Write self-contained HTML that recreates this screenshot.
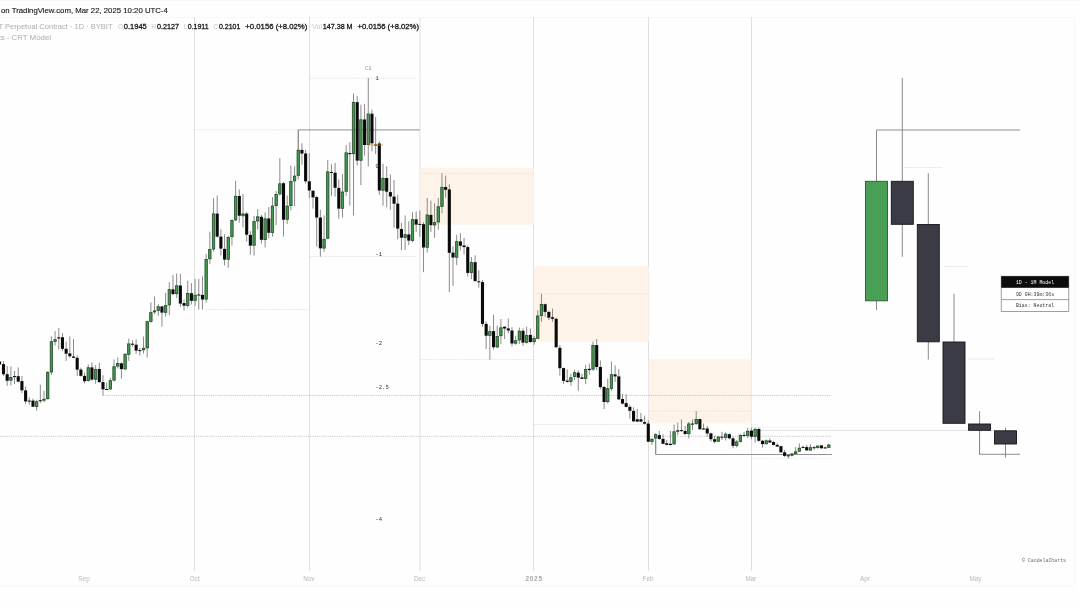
<!DOCTYPE html>
<html lang="en"><head><meta charset="utf-8"><title>CRT Model chart</title>
<style>
html,body{margin:0;padding:0;background:#fefefe;}
body{width:1080px;height:608px;overflow:hidden;position:relative;font-family:"Liberation Sans",sans-serif;}
svg{position:absolute;left:0;top:0;display:block;}
.hdr{position:absolute;left:0;top:0;width:1080px;height:17px;background:#fefefe;border-top:1px solid #f8f5f8;box-sizing:border-box;}
</style></head><body>
<div class="hdr"></div>
<svg width="1080" height="608" viewBox="0 0 1080 608">
<g fill="none" stroke="#f9f7f9" stroke-width="1">
<path d="M0 17.5H1074.5V586.5H0"/>
</g>
<g stroke="#dfdfe2" stroke-width="1" fill="none">
<path d="M194.5 17V571"/>
<path d="M309.5 17V571"/>
<path d="M420 17V571"/>
<path d="M533.5 17V571"/>
<path d="M648.5 17V571"/>
<path d="M751.5 17V571"/>
</g>
<g fill="#fdf3e9">
<rect x="420.3" y="167.7" width="113.4" height="57"/>
<rect x="533.7" y="266.3" width="115" height="75.4"/>
<rect x="648.7" y="359.2" width="102.8" height="64.3"/>
</g>
<path d="M195.1 129.9H298.3" stroke="#d9d9dc" stroke-width="0.8" stroke-dasharray="1.2 1" fill="none"/>
<path d="M206.1 309.5H309.3" stroke="#d9d9dc" stroke-width="0.8" stroke-dasharray="1.2 1" fill="none"/>
<path d="M310.3 78.2H416.5" stroke="#d9d9dc" stroke-width="0.8" stroke-dasharray="1.2 1" fill="none"/>
<path d="M310.3 256.6H416.5" stroke="#d9d9dc" stroke-width="0.8" stroke-dasharray="1.2 1" fill="none"/>
<path d="M419.8 173.4H534.1" stroke="#ecdccd" stroke-width="0.8" stroke-dasharray="1.2 1" fill="none"/>
<path d="M419.8 359.6H534.1" stroke="#d9d9dc" stroke-width="0.8" stroke-dasharray="1.2 1" fill="none"/>
<path d="M534.1 293.6H648.3" stroke="#ecdccd" stroke-width="0.8" stroke-dasharray="1.2 1" fill="none"/>
<path d="M534.1 424.5H648.3" stroke="#d9d9dc" stroke-width="0.8" stroke-dasharray="1.2 1" fill="none"/>
<path d="M648.3 411.3H751.5" stroke="#e9ddd2" stroke-width="0.8" stroke-dasharray="1.2 1" fill="none"/>
<path d="M751.5 427.3H831.0" stroke="#e6e6e9" stroke-width="0.8" stroke-dasharray="1.2 1" fill="none"/>
<path d="M751.5 458.6H831.0" stroke="#e6e6e9" stroke-width="0.8" stroke-dasharray="1.2 1" fill="none"/>
<path d="M103.0 395.4H831.0" stroke="#c4bcc6" stroke-width="0.9" stroke-dasharray="1.2 1" fill="none"/>
<path d="M0.0 436.3H831.0" stroke="#c8c0ca" stroke-width="0.9" stroke-dasharray="1.2 1" fill="none"/>
<path d="M298.3 150V129.9H419.8" stroke="#8e8e92" stroke-width="1" fill="none"/>
<path d="M655.7 440V454.5H832" stroke="#949498" stroke-width="1" fill="none"/>
<path d="M751.5 430.5H994" stroke="#e3e1e8" stroke-width="1" fill="none"/>
<path d="M904.0 167.5H942.0" stroke="#d6d6d9" stroke-width="0.8" stroke-dasharray="1.2 1" fill="none"/>
<path d="M944.0 266.5H968.0" stroke="#d6d6d9" stroke-width="0.8" stroke-dasharray="1.2 1" fill="none"/>
<path d="M968.0 359.0H994.0" stroke="#d6d6d9" stroke-width="0.8" stroke-dasharray="1.2 1" fill="none"/>
<path d="M876.5 181V130H1020" stroke="#8e8e92" stroke-width="1" fill="none"/>
<path d="M979.5 430V454.3H1020" stroke="#8e8e92" stroke-width="1" fill="none"/>
<path d="M3.50 361.1V375.9M7.18 366.0V385.8M10.87 366.5V385.4M14.55 371.0V384.1M18.24 367.4V382.5M21.92 375.9V393.1M25.61 386.6V403.8M29.29 397.3V404.7M32.98 398.6V407.1M36.66 399.7V410.7M40.34 384.6V403.0M44.03 390.7V402.2M47.71 371.0V399.7M51.40 336.4V375.1M55.08 331.2V345.5M58.77 327.9V349.6M62.45 333.1V351.2M66.14 341.4V360.8M69.82 336.4V357.8M73.51 338.9V358.1M77.19 355.3V375.9M80.87 367.7V376.7M84.56 372.6V383.3M88.24 364.4V381.6M91.93 362.4V380.5M95.61 365.2V383.8M99.30 362.7V382.8M102.98 375.1V395.6M106.67 382.5V389.9M110.35 377.9V389.9M114.03 359.4V381.6M117.72 357.5V368.5M121.40 362.5V378.6M125.09 353.4V369.9M128.77 338.6V360.8M132.46 340.3V346.9M136.14 339.4V353.9M139.83 348.0V355.6M143.51 336.5V353.4M147.20 320.6V357.5M150.88 302.4V322.5M154.56 296.5V314.2M158.25 304.1V315.9M161.93 306.0V326.6M165.62 292.9V316.7M169.30 282.2V315.1M172.99 275.1V295.3M176.67 273.5V297.8M180.36 274.0V306.9M184.04 299.4V310.6M187.72 280.6V307.7M191.41 283.0V304.4M195.09 278.9V306.0M198.78 278.9V309.6M202.46 276.4V309.6M206.15 253.8V302.7M209.83 231.7V264.0M213.52 198.3V251.4M217.20 195.5V237.4M220.89 229.2V255.5M224.57 234.1V265.4M228.25 235.8V267.8M231.94 219.3V245.6M235.62 180.7V221.0M239.31 189.4V222.6M242.99 193.8V227.5M246.68 211.9V241.5M250.36 231.2V254.7M254.05 216.0V255.5M257.73 209.1V229.5M261.41 214.7V243.7M265.10 212.4V247.3M268.78 207.0V238.2M272.47 197.1V236.6M276.15 191.0V225.1M279.84 158.1V195.5M283.52 182.3V236.6M287.21 195.5V223.9M290.89 165.5V210.3M294.58 166.3V206.2M298.26 129.7V179.3M301.94 143.3V164.7M305.63 149.7V183.4M309.31 153.0V198.2M313.00 190.0V208.6M316.68 195.8V246.7M320.37 209.7V256.6M324.05 215.5V251.7M327.74 160.1V239.3M331.42 164.2V195.8M335.11 162.9V196.6M338.79 179.3V218.8M342.47 174.1V217.5M346.16 145.1V195.8M349.84 142.3V205.6M353.53 93.5V215.5M357.21 96.1V165.5M360.90 104.7V185.1M364.58 103.8V155.6M368.27 78.0V166.3M371.95 109.6V151.5M375.63 117.0V154.0M379.32 141.2V194.9M383.00 163.7V205.6M386.69 166.2V207.3M390.37 174.4V209.7M394.06 180.1V227.8M397.74 194.9V239.3M401.43 222.9V250.0M405.11 215.5V250.0M408.79 221.2V245.1M412.48 212.2V242.3M416.16 211.4V231.9M419.85 210.6V236.8M423.53 222.1V272.2M427.22 197.9V252.5M430.90 200.6V231.9M434.59 203.4V237.9M438.27 198.0V229.7M441.96 173.3V213.3M445.64 175.5V197.7M449.32 184.2V292.0M453.01 246.3V285.8M456.69 234.8V265.2M460.38 233.2V250.4M464.06 237.8V254.5M467.75 245.5V276.7M471.43 257.0V279.2M475.12 255.3V281.6M478.80 270.1V287.7M482.49 280.0V326.7M486.17 321.3V348.9M489.85 325.9V359.6M493.54 314.7V349.7M497.22 325.6V348.1M500.91 319.0V344.0M504.59 326.4V339.0M508.28 318.5V333.3M511.96 327.2V346.4M515.65 335.8V344.8M519.33 327.5V344.0M523.01 328.4V345.9M526.70 326.7V343.5M530.38 328.4V343.1M534.07 335.8V344.8M537.75 310.3V339.0M541.44 293.8V321.8M545.12 303.7V316.9M548.81 311.1V320.1M552.49 308.6V321.8M556.17 317.7V348.1M559.86 345.1V375.7M563.54 367.5V383.9M567.23 369.4V382.6M570.91 373.6V385.6M574.60 369.8V380.1M578.28 370.3V390.8M581.97 373.6V379.0M585.65 364.9V384.2M589.34 363.7V374.7M593.02 341.5V370.8M596.70 339.0V370.3M600.39 360.4V389.2M604.07 385.9V409.2M607.76 378.5V403.6M611.44 361.6V390.8M615.13 365.3V381.8M618.81 369.1V399.9M622.50 394.1V404.3M626.18 394.4V407.3M629.87 404.8V418.8M633.55 407.3V422.1M637.23 408.9V422.1M640.92 413.0V422.1M644.60 415.5V424.5M648.29 420.3V442.1M651.97 438.4V444.9M655.66 433.4V454.3M659.34 431.0V440.0M663.03 434.2V444.1M666.71 440.0V445.4M670.39 431.0V445.4M674.08 424.4V444.9M677.76 422.7V435.1M681.45 419.4V431.8M685.13 426.0V435.1M688.82 421.9V438.4M692.50 419.4V430.1M696.19 411.2V424.7M699.87 418.6V429.6M703.55 423.6V429.6M707.24 426.0V436.7M710.92 432.6V441.6M714.61 435.9V443.3M718.29 435.9V442.1M721.98 431.8V440.0M725.66 432.3V440.5M729.35 433.4V439.2M733.03 436.7V448.2M736.72 440.0V447.4M740.40 433.9V442.5M744.08 431.8V436.7M747.77 427.7V437.9M751.45 427.7V439.2M755.14 427.7V442.5M758.82 427.4V441.6M762.51 440.0V447.7M766.19 439.5V444.4M769.88 438.4V442.8M773.56 440.8V445.4M777.25 443.3V447.1M780.93 445.8V452.7M784.61 449.9V456.9M788.30 454.3V458.6M791.98 453.1V456.4M795.67 447.1V454.8M799.35 443.3V452.0M803.04 445.8V448.2M806.72 444.9V450.7M810.41 444.1V450.7M814.09 445.8V449.9M817.77 445.4V448.7M821.46 444.9V449.0M825.14 446.6V449.0M828.83 444.1V448.2" stroke="#8b8b8b" stroke-width="1" fill="none"/>
<g fill="#0a0a0a"><rect x="1.95" y="364.1" width="3.1" height="10.2"/><rect x="5.63" y="374.2" width="3.1" height="6.6"/><rect x="13.00" y="376.1" width="3.1" height="1.0"/><rect x="16.69" y="376.2" width="3.1" height="5.4"/><rect x="20.37" y="381.1" width="3.1" height="9.2"/><rect x="24.06" y="390.4" width="3.1" height="11.0"/><rect x="27.74" y="400.6" width="3.1" height="1.0"/><rect x="31.43" y="400.6" width="3.1" height="6.1"/><rect x="38.80" y="400.2" width="3.1" height="1.0"/><rect x="57.22" y="337.3" width="3.1" height="1.2"/><rect x="60.90" y="337.3" width="3.1" height="11.5"/><rect x="64.59" y="348.8" width="3.1" height="4.9"/><rect x="68.27" y="353.4" width="3.1" height="2.8"/><rect x="71.96" y="356.5" width="3.1" height="1.3"/><rect x="75.64" y="357.8" width="3.1" height="11.8"/><rect x="79.32" y="369.6" width="3.1" height="6.2"/><rect x="83.01" y="375.9" width="3.1" height="5.3"/><rect x="90.38" y="367.4" width="3.1" height="12.2"/><rect x="97.75" y="369.0" width="3.1" height="13.1"/><rect x="101.43" y="382.1" width="3.1" height="7.2"/><rect x="105.12" y="389.0" width="3.1" height="1.0"/><rect x="119.85" y="363.3" width="3.1" height="5.8"/><rect x="130.91" y="343.7" width="3.1" height="1.0"/><rect x="134.59" y="344.7" width="3.1" height="5.9"/><rect x="138.28" y="350.1" width="3.1" height="1.0"/><rect x="160.38" y="306.4" width="3.1" height="6.2"/><rect x="171.44" y="289.3" width="3.1" height="4.8"/><rect x="178.81" y="285.5" width="3.1" height="18.1"/><rect x="182.49" y="303.1" width="3.1" height="2.6"/><rect x="189.86" y="293.2" width="3.1" height="7.6"/><rect x="197.23" y="294.5" width="3.1" height="1.0"/><rect x="200.91" y="294.9" width="3.1" height="4.6"/><rect x="215.65" y="213.6" width="3.1" height="23.0"/><rect x="219.34" y="236.6" width="3.1" height="12.0"/><rect x="223.02" y="248.9" width="3.1" height="10.7"/><rect x="237.76" y="196.0" width="3.1" height="19.7"/><rect x="245.13" y="213.6" width="3.1" height="21.1"/><rect x="248.81" y="234.9" width="3.1" height="10.7"/><rect x="259.86" y="216.8" width="3.1" height="23.0"/><rect x="267.23" y="218.5" width="3.1" height="14.3"/><rect x="281.97" y="183.2" width="3.1" height="36.5"/><rect x="300.39" y="149.9" width="3.1" height="3.6"/><rect x="304.08" y="153.5" width="3.1" height="27.8"/><rect x="307.76" y="181.3" width="3.1" height="9.2"/><rect x="311.45" y="190.8" width="3.1" height="6.6"/><rect x="315.13" y="197.1" width="3.1" height="20.4"/><rect x="318.82" y="217.6" width="3.1" height="30.7"/><rect x="329.87" y="171.9" width="3.1" height="1.0"/><rect x="333.56" y="172.7" width="3.1" height="15.1"/><rect x="337.24" y="187.9" width="3.1" height="20.7"/><rect x="348.29" y="153.0" width="3.1" height="1.2"/><rect x="355.66" y="102.2" width="3.1" height="58.4"/><rect x="363.03" y="119.5" width="3.1" height="25.5"/><rect x="370.40" y="113.7" width="3.1" height="29.6"/><rect x="374.08" y="144.6" width="3.1" height="1.0"/><rect x="377.77" y="143.5" width="3.1" height="47.0"/><rect x="385.14" y="178.0" width="3.1" height="13.7"/><rect x="388.82" y="192.1" width="3.1" height="4.4"/><rect x="392.51" y="196.6" width="3.1" height="7.1"/><rect x="396.19" y="203.6" width="3.1" height="25.0"/><rect x="399.88" y="229.0" width="3.1" height="8.7"/><rect x="407.24" y="234.4" width="3.1" height="6.2"/><rect x="414.61" y="219.3" width="3.1" height="5.3"/><rect x="418.30" y="223.9" width="3.1" height="1.0"/><rect x="421.98" y="224.2" width="3.1" height="23.3"/><rect x="429.35" y="214.9" width="3.1" height="10.3"/><rect x="444.09" y="187.0" width="3.1" height="2.8"/><rect x="447.77" y="189.4" width="3.1" height="63.4"/><rect x="451.46" y="252.6" width="3.1" height="4.9"/><rect x="458.83" y="241.4" width="3.1" height="4.4"/><rect x="462.51" y="245.5" width="3.1" height="1.6"/><rect x="466.20" y="247.1" width="3.1" height="25.8"/><rect x="473.57" y="262.2" width="3.1" height="18.9"/><rect x="477.25" y="281.3" width="3.1" height="1.0"/><rect x="480.94" y="282.1" width="3.1" height="41.8"/><rect x="484.62" y="323.9" width="3.1" height="11.8"/><rect x="491.99" y="331.1" width="3.1" height="16.1"/><rect x="503.04" y="326.7" width="3.1" height="1.8"/><rect x="506.73" y="328.4" width="3.1" height="2.1"/><rect x="510.41" y="330.5" width="3.1" height="13.0"/><rect x="521.46" y="330.8" width="3.1" height="11.8"/><rect x="528.83" y="334.9" width="3.1" height="7.1"/><rect x="543.57" y="304.2" width="3.1" height="7.7"/><rect x="547.26" y="311.9" width="3.1" height="5.8"/><rect x="550.94" y="317.2" width="3.1" height="1.6"/><rect x="554.62" y="318.8" width="3.1" height="28.4"/><rect x="558.31" y="347.8" width="3.1" height="20.4"/><rect x="561.99" y="368.1" width="3.1" height="12.8"/><rect x="565.68" y="380.6" width="3.1" height="1.3"/><rect x="576.73" y="372.7" width="3.1" height="4.9"/><rect x="580.42" y="377.4" width="3.1" height="1.5"/><rect x="587.79" y="368.8" width="3.1" height="1.3"/><rect x="595.15" y="345.1" width="3.1" height="21.9"/><rect x="598.84" y="367.0" width="3.1" height="20.1"/><rect x="602.52" y="387.0" width="3.1" height="15.0"/><rect x="613.58" y="374.4" width="3.1" height="2.0"/><rect x="617.26" y="376.4" width="3.1" height="23.0"/><rect x="620.95" y="399.0" width="3.1" height="4.6"/><rect x="624.63" y="403.1" width="3.1" height="3.8"/><rect x="628.32" y="406.9" width="3.1" height="3.9"/><rect x="632.00" y="410.9" width="3.1" height="10.4"/><rect x="635.68" y="419.3" width="3.1" height="2.3"/><rect x="639.37" y="419.3" width="3.1" height="2.3"/><rect x="643.05" y="422.1" width="3.1" height="1.6"/><rect x="646.74" y="423.6" width="3.1" height="18.1"/><rect x="657.79" y="435.1" width="3.1" height="3.8"/><rect x="661.48" y="438.9" width="3.1" height="4.9"/><rect x="665.16" y="443.3" width="3.1" height="1.6"/><rect x="668.84" y="443.8" width="3.1" height="1.2"/><rect x="676.21" y="430.3" width="3.1" height="1.3"/><rect x="679.90" y="430.1" width="3.1" height="1.0"/><rect x="683.58" y="431.0" width="3.1" height="3.0"/><rect x="690.95" y="423.6" width="3.1" height="1.0"/><rect x="698.32" y="419.1" width="3.1" height="10.2"/><rect x="702.00" y="428.5" width="3.1" height="1.0"/><rect x="705.69" y="428.5" width="3.1" height="4.9"/><rect x="709.37" y="433.4" width="3.1" height="5.8"/><rect x="713.06" y="439.2" width="3.1" height="2.5"/><rect x="720.43" y="436.7" width="3.1" height="1.0"/><rect x="727.80" y="434.2" width="3.1" height="4.1"/><rect x="731.48" y="438.4" width="3.1" height="7.4"/><rect x="742.53" y="434.9" width="3.1" height="1.0"/><rect x="749.90" y="430.6" width="3.1" height="6.1"/><rect x="757.27" y="429.0" width="3.1" height="11.8"/><rect x="760.96" y="440.8" width="3.1" height="3.3"/><rect x="768.33" y="440.5" width="3.1" height="2.0"/><rect x="772.01" y="442.1" width="3.1" height="2.8"/><rect x="775.70" y="444.9" width="3.1" height="1.6"/><rect x="779.38" y="446.2" width="3.1" height="6.1"/><rect x="783.06" y="452.3" width="3.1" height="3.6"/><rect x="801.49" y="446.9" width="3.1" height="1.0"/><rect x="805.17" y="447.1" width="3.1" height="3.3"/><rect x="812.54" y="447.2" width="3.1" height="1.0"/><rect x="819.91" y="445.4" width="3.1" height="2.8"/><rect x="823.59" y="447.4" width="3.1" height="1.0"/></g>
<g fill="#439a4e" stroke="#234a2a" stroke-width="0.8"><rect x="9.67" y="377.5" width="2.4" height="2.7"/><rect x="35.46" y="401.7" width="2.4" height="4.7"/><rect x="42.83" y="399.2" width="2.4" height="1.0"/><rect x="46.51" y="372.6" width="2.4" height="26.0"/><rect x="50.20" y="341.7" width="2.4" height="30.3"/><rect x="53.88" y="339.7" width="2.4" height="1.7"/><rect x="87.04" y="367.7" width="2.4" height="12.9"/><rect x="94.41" y="369.6" width="2.4" height="9.6"/><rect x="109.15" y="380.6" width="2.4" height="8.4"/><rect x="112.83" y="366.7" width="2.4" height="13.4"/><rect x="116.52" y="363.4" width="2.4" height="2.7"/><rect x="123.89" y="354.2" width="2.4" height="14.8"/><rect x="127.57" y="343.9" width="2.4" height="10.4"/><rect x="142.31" y="348.3" width="2.4" height="1.5"/><rect x="146.00" y="321.7" width="2.4" height="26.2"/><rect x="149.68" y="312.6" width="2.4" height="8.8"/><rect x="153.36" y="310.9" width="2.4" height="1.0"/><rect x="157.05" y="306.7" width="2.4" height="3.7"/><rect x="164.42" y="305.5" width="2.4" height="6.8"/><rect x="168.10" y="289.6" width="2.4" height="15.3"/><rect x="175.47" y="285.8" width="2.4" height="7.9"/><rect x="186.53" y="293.5" width="2.4" height="11.9"/><rect x="193.89" y="295.2" width="2.4" height="5.3"/><rect x="204.95" y="259.4" width="2.4" height="39.7"/><rect x="208.63" y="249.5" width="2.4" height="9.3"/><rect x="212.32" y="213.9" width="2.4" height="35.1"/><rect x="227.05" y="237.4" width="2.4" height="21.9"/><rect x="230.74" y="220.4" width="2.4" height="16.3"/><rect x="234.42" y="196.3" width="2.4" height="23.6"/><rect x="241.79" y="213.9" width="2.4" height="1.9"/><rect x="252.85" y="221.6" width="2.4" height="23.7"/><rect x="256.53" y="216.8" width="2.4" height="4.2"/><rect x="263.90" y="218.8" width="2.4" height="20.8"/><rect x="271.27" y="206.1" width="2.4" height="26.4"/><rect x="274.95" y="194.5" width="2.4" height="11.1"/><rect x="278.64" y="183.8" width="2.4" height="10.1"/><rect x="286.01" y="206.1" width="2.4" height="13.2"/><rect x="289.69" y="181.5" width="2.4" height="24.1"/><rect x="293.38" y="176.1" width="2.4" height="4.8"/><rect x="297.06" y="150.2" width="2.4" height="25.2"/><rect x="322.85" y="239.3" width="2.4" height="8.8"/><rect x="326.54" y="171.9" width="2.4" height="66.3"/><rect x="341.27" y="192.0" width="2.4" height="16.3"/><rect x="344.96" y="152.8" width="2.4" height="38.5"/><rect x="352.33" y="102.5" width="2.4" height="51.2"/><rect x="359.70" y="119.8" width="2.4" height="40.5"/><rect x="367.07" y="114.0" width="2.4" height="30.6"/><rect x="381.80" y="178.3" width="2.4" height="11.9"/><rect x="403.91" y="234.7" width="2.4" height="2.7"/><rect x="411.28" y="219.6" width="2.4" height="20.8"/><rect x="426.02" y="215.0" width="2.4" height="32.3"/><rect x="433.39" y="222.6" width="2.4" height="2.4"/><rect x="437.07" y="206.7" width="2.4" height="15.3"/><rect x="440.76" y="187.3" width="2.4" height="19.1"/><rect x="455.49" y="241.7" width="2.4" height="15.5"/><rect x="470.23" y="262.6" width="2.4" height="9.8"/><rect x="488.65" y="331.6" width="2.4" height="3.8"/><rect x="496.02" y="336.4" width="2.4" height="10.6"/><rect x="499.71" y="327.8" width="2.4" height="7.9"/><rect x="514.45" y="340.7" width="2.4" height="2.5"/><rect x="518.13" y="331.1" width="2.4" height="8.9"/><rect x="525.50" y="335.6" width="2.4" height="6.8"/><rect x="532.87" y="338.5" width="2.4" height="3.2"/><rect x="536.55" y="316.0" width="2.4" height="22.3"/><rect x="540.24" y="304.5" width="2.4" height="10.9"/><rect x="569.71" y="377.7" width="2.4" height="3.8"/><rect x="573.40" y="372.7" width="2.4" height="3.8"/><rect x="584.45" y="369.4" width="2.4" height="9.1"/><rect x="591.82" y="345.4" width="2.4" height="23.7"/><rect x="606.56" y="388.7" width="2.4" height="13.0"/><rect x="610.24" y="374.7" width="2.4" height="13.7"/><rect x="650.77" y="439.2" width="2.4" height="2.2"/><rect x="654.46" y="434.6" width="2.4" height="3.5"/><rect x="672.88" y="431.8" width="2.4" height="12.1"/><rect x="687.62" y="423.9" width="2.4" height="9.8"/><rect x="694.99" y="419.4" width="2.4" height="4.3"/><rect x="717.09" y="437.0" width="2.4" height="4.3"/><rect x="724.46" y="434.2" width="2.4" height="3.3"/><rect x="735.52" y="441.9" width="2.4" height="3.5"/><rect x="739.20" y="435.4" width="2.4" height="6.0"/><rect x="746.57" y="431.3" width="2.4" height="4.3"/><rect x="753.94" y="429.3" width="2.4" height="7.1"/><rect x="764.99" y="440.8" width="2.4" height="3.0"/><rect x="787.10" y="455.4" width="2.4" height="0.6"/><rect x="790.78" y="453.9" width="2.4" height="1.4"/><rect x="794.47" y="451.8" width="2.4" height="1.9"/><rect x="798.15" y="448.2" width="2.4" height="3.0"/><rect x="809.21" y="447.7" width="2.4" height="2.4"/><rect x="816.57" y="446.1" width="2.4" height="1.4"/><rect x="827.63" y="444.9" width="2.4" height="2.5"/></g>
<rect x="-1.5" y="361.5" width="2.6" height="3" fill="#0a0a0a"/>
<path d="M368.8 145H383" stroke="#dc8e18" stroke-width="0.7"/>
<path d="M368.27 114V145" stroke="#8b8b8b" stroke-width="1" opacity="0.55"/>
<path d="M876.5 130V310" stroke="#8a8a8e" stroke-width="1"/>
<path d="M902.3 78V256.8" stroke="#8a8a8e" stroke-width="1"/>
<path d="M928.3 173.3V359.5" stroke="#8a8a8e" stroke-width="1"/>
<path d="M954.0 293.8V423.3" stroke="#8a8a8e" stroke-width="1"/>
<path d="M979.6 411.3V454.3" stroke="#8a8a8e" stroke-width="1"/>
<path d="M1005.5 427.5V457.5" stroke="#8a8a8e" stroke-width="1"/>
<rect x="865.5" y="181.3" width="22" height="119.5" fill="#4a9f56" stroke="#2a5a30" stroke-width="0.9"/>
<rect x="891.3" y="181.3" width="22" height="43.0" fill="#3b3b45" stroke="#15151a" stroke-width="0.9"/>
<rect x="917.3" y="224.5" width="22" height="117.3" fill="#3b3b45" stroke="#15151a" stroke-width="0.9"/>
<rect x="943.0" y="342.0" width="22" height="81.3" fill="#3b3b45" stroke="#15151a" stroke-width="0.9"/>
<rect x="968.6" y="424.0" width="22" height="6.3" fill="#3b3b45" stroke="#15151a" stroke-width="0.9"/>
<rect x="994.5" y="430.8" width="22" height="13.2" fill="#3b3b45" stroke="#15151a" stroke-width="0.9"/>
<rect x="1001.2" y="276.2" width="67.6" height="35.4" fill="#fff" stroke="#77777a" stroke-width="0.7"/>
<rect x="1001.2" y="276.2" width="67.6" height="11.6" fill="#0c0c0c"/>
<path d="M1001.2 299.6H1068.8" stroke="#77777a" stroke-width="0.7"/>
<g font-family="'Liberation Mono',monospace" font-size="4.9" text-anchor="middle">
<text x="1035" y="283.8" fill="#fff">1D - 1M Model</text>
<text x="1035" y="295.5" fill="#333">9D 9H:39m:36s</text>
<text x="1035" y="307.4" fill="#333">Bias: Neutral</text>
</g>
<g font-family="'Liberation Mono',monospace" font-size="5.5" fill="#303030">
<text x="365" y="70" fill="#7d9a80">C1</text>
<text x="375.5" y="80.3">1</text>
<text x="375.5" y="168">0</text>
<text x="375.5" y="255.8">-1</text>
<text x="375.5" y="344.8">-2</text>
<text x="375.5" y="389.3">-2.5</text>
<text x="375.5" y="521">-4</text>
</g>
<text x="1022" y="561.8" font-family="'Liberation Mono',monospace" font-size="4.9" fill="#6a6a6a">© CandelaCharts</text>
<g font-family="'Liberation Sans',sans-serif" font-size="6.4" fill="#b8b8bc" text-anchor="middle">
<text x="84" y="580.8">Sep</text>
<text x="194.7" y="580.8">Oct</text>
<text x="309" y="580.8">Nov</text>
<text x="419.6" y="580.8">Dec</text>
<text x="648" y="580.8">Feb</text>
<text x="751" y="580.8">Mar</text>
<text x="865" y="580.8">Apr</text>
<text x="975.5" y="580.8">May</text>
<text x="533.7" y="580.8" fill="#a6a6a9" font-weight="bold" textLength="16.6" lengthAdjust="spacing">2025</text>
</g>
<g font-family="'Liberation Sans',sans-serif">
<text x="1.0" y="12.8" textLength="166.8" lengthAdjust="spacingAndGlyphs" font-size="7.8" fill="#1c1c1c" stroke="#1c1c1c" stroke-width="0.15">on TradingView.com, Mar 22, 2025 10:20 UTC-4</text>
<text x="-1.5" y="29.2" textLength="114.0" lengthAdjust="spacingAndGlyphs" font-size="7.4" fill="#adadad">T Perpetual Contract · 1D · BYBIT</text>
<text x="118.0" y="29.2" textLength="5.2" lengthAdjust="spacingAndGlyphs" font-size="7.4" fill="#c4c4c4">O</text>
<text x="123.8" y="29.2" textLength="23.0" lengthAdjust="spacingAndGlyphs" font-size="7.4" fill="#151515" stroke="#151515" stroke-width="0.28">0.1945</text>
<text x="151.3" y="29.2" textLength="4.6" lengthAdjust="spacingAndGlyphs" font-size="7.4" fill="#c4c4c4">H</text>
<text x="156.9" y="29.2" textLength="22.1" lengthAdjust="spacingAndGlyphs" font-size="7.4" fill="#151515" stroke="#151515" stroke-width="0.28">0.2127</text>
<text x="183.8" y="29.2" textLength="3.2" lengthAdjust="spacingAndGlyphs" font-size="7.4" fill="#c4c4c4">L</text>
<text x="187.8" y="29.2" textLength="20.8" lengthAdjust="spacingAndGlyphs" font-size="7.4" fill="#151515" stroke="#151515" stroke-width="0.28">0.1911</text>
<text x="213.5" y="29.2" textLength="4.6" lengthAdjust="spacingAndGlyphs" font-size="7.4" fill="#c4c4c4">C</text>
<text x="219.0" y="29.2" textLength="21.3" lengthAdjust="spacingAndGlyphs" font-size="7.4" fill="#151515" stroke="#151515" stroke-width="0.28">0.2101</text>
<text x="245.3" y="29.2" textLength="62.0" lengthAdjust="spacingAndGlyphs" font-size="7.4" fill="#151515" stroke="#151515" stroke-width="0.28">+0.0156 (+8.02%)</text>
<text x="312.2" y="29.2" textLength="9.8" lengthAdjust="spacingAndGlyphs" font-size="7.4" fill="#c4c4c4">Vol</text>
<text x="322.7" y="29.2" textLength="29.9" lengthAdjust="spacingAndGlyphs" font-size="7.4" fill="#151515" stroke="#151515" stroke-width="0.28">147.38 M</text>
<text x="357.5" y="29.2" textLength="61.5" lengthAdjust="spacingAndGlyphs" font-size="7.4" fill="#151515" stroke="#151515" stroke-width="0.28">+0.0156 (+8.02%)</text>
<text x="-1.5" y="39.7" textLength="52.5" lengthAdjust="spacingAndGlyphs" font-size="7.4" fill="#adadad">ts - CRT Model</text>
</g>
</svg>
</body></html>
